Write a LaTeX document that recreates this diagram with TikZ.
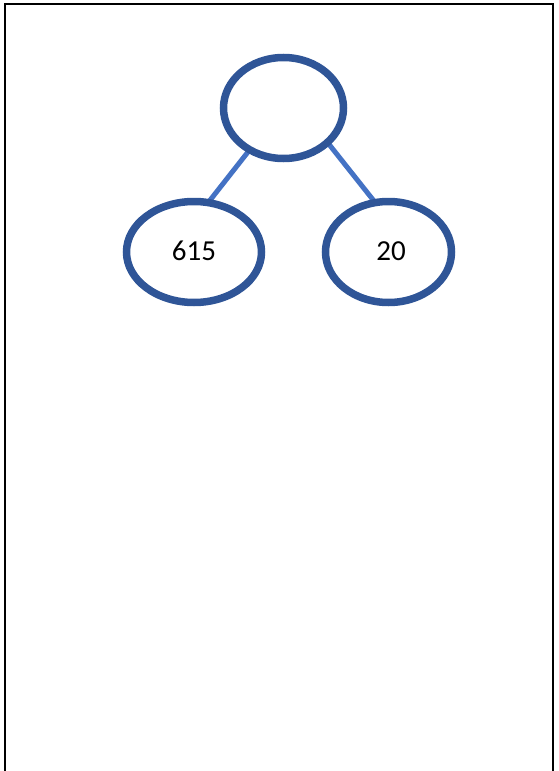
\documentclass[tikz,border=0pt]{standalone}
\usepackage{fontspec}
\setmainfont{Carlito}
\usetikzlibrary{shapes.geometric,backgrounds}
\definecolor{ringblue}{HTML}{2F5597}
\definecolor{linkblue}{HTML}{4472C4}
\tikzset{
  ring/.style={ellipse, draw=ringblue, line width=7.5pt, inner sep=0pt, outer sep=0pt,
    minimum height=101pt, font=\fontsize{29}{34}\selectfont},
  link/.style={draw=linkblue, line width=5pt},
  frame/.style={draw=black, line width=2pt}
}
\begin{document}
\begin{tikzpicture}[x=1pt,y=-1pt]
\useasboundingbox (0,0) rectangle (558,771);
\draw[frame] (5,771) -- (5,3.5) -- (553,3.5) -- (553,771);
\node[ring, minimum width=120pt] (top) at (283.5,108) {};
\node[ring, minimum width=135pt] (left) at (194,252) {\raisebox{2pt}{615}};
\node[ring, minimum width=126pt] (right) at (388.5,252) {\hspace{5pt}\raisebox{2pt}{20}};
\begin{scope}[on background layer]
\draw[link] (top.231) -- (left.74);
\draw[link] (top.322) -- (right.105);
\end{scope}
\end{tikzpicture}
\end{document}
